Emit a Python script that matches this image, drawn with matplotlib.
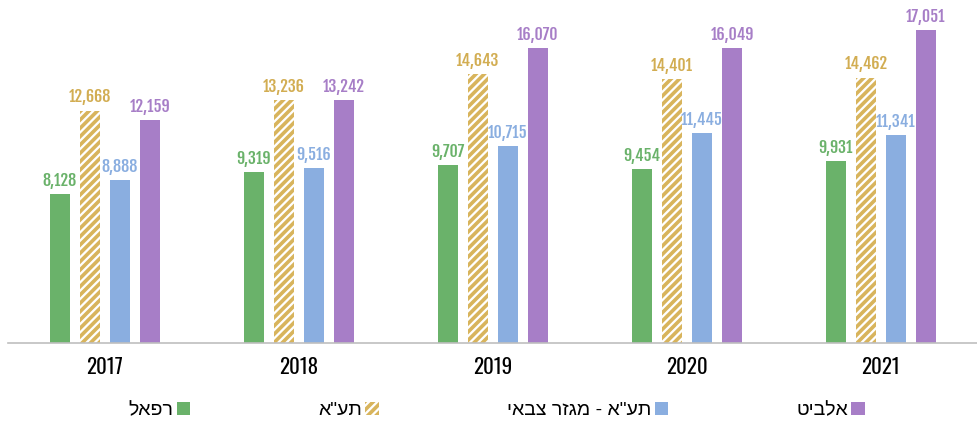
import matplotlib.pyplot as plt
from matplotlib import font_manager
import numpy as np

# -----------------------------
# DATA
# -----------------------------
years = ["2017", "2018", "2019", "2020", "2021"]
rafael = [8128, 9319, 9707, 9454, 9931]
iai = [12668, 13236, 14643, 14401, 14462]
iai_military = [8888, 9516, 10715, 11445, 11341]
elbit = [12159, 13242, 16070, 16049, 17051]

# hebrew names (logical order); reversed for display since matplotlib has no bidi
names = ["רפאל", "תע\"א", "תע\"א - מגזר צבאי", "אלביט"]

GREEN = "#6AB26A"
GOLD = "#D8B45C"
BLUE = "#8AAEE0"
PURPLE = "#A77EC7"


def rtl(s):
    return s[::-1]


def pick_font(candidates):
    have = {f.name for f in font_manager.fontManager.ttflist}
    for c in candidates:
        if c in have:
            return c
    return "DejaVu Sans"


VALUE_FONT = pick_font(["Fjalla One", "Oswald", "Secular One", "Liberation Sans Narrow"])
YEAR_FONT = pick_font(["Oswald", "Abel", "Liberation Sans Narrow"])

plt.rcParams["hatch.linewidth"] = 2.6

fig = plt.figure(figsize=(9.78, 4.23), dpi=100)
ax = fig.add_axes([8 / 978, 80 / 423, 970 / 978, 343 / 423])

x = np.arange(len(years))
w = 0.103
pitch = 0.155
offsets = [-1.5 * pitch, -0.5 * pitch, 0.5 * pitch, 1.5 * pitch]

series = [rafael, iai, iai_military, elbit]
label_colors = [GREEN, "#D2AD52", BLUE, PURPLE]
handles = []
for i, vals in enumerate(series):
    if i == 1:
        b = ax.bar(x + offsets[i], vals, w, facecolor="white", edgecolor=GOLD,
                   hatch="////", linewidth=0, label=rtl(names[i]))
    else:
        b = ax.bar(x + offsets[i], vals, w, color=[GREEN, None, BLUE, PURPLE][i],
                   label=rtl(names[i]))
    handles.append(b)
    for xi, v in zip(x + offsets[i], vals):
        ax.annotate(f"{v:,}", (xi, v), xytext=(0, 3), textcoords="offset points",
                    ha="center", va="bottom", color=label_colors[i],
                    fontsize=11.5, fontweight="bold", family=VALUE_FONT)

ax.set_xlim(-0.5, len(years) - 0.5)
ax.set_ylim(0, 18690)
ax.set_yticks([])
ax.set_xticks(x)
ax.set_xticklabels(years, fontsize=15, family=YEAR_FONT, fontweight="light")
ax.tick_params(axis="x", length=0, pad=10)
for s in ["top", "right", "left"]:
    ax.spines[s].set_visible(False)
ax.spines["bottom"].set_color("#BFBFBF")
ax.spines["bottom"].set_linewidth(1.2)

leg = fig.legend(handles=handles, loc="center", bbox_to_anchor=(0.508, 0.03),
                 ncol=4, frameon=False, markerfirst=False, handlelength=0.7,
                 handleheight=0.7, handletextpad=0.15, columnspacing=6.6,
                 prop={"family": "Liberation Sans", "size": 14})

fig.savefig("out.png", dpi=100)
